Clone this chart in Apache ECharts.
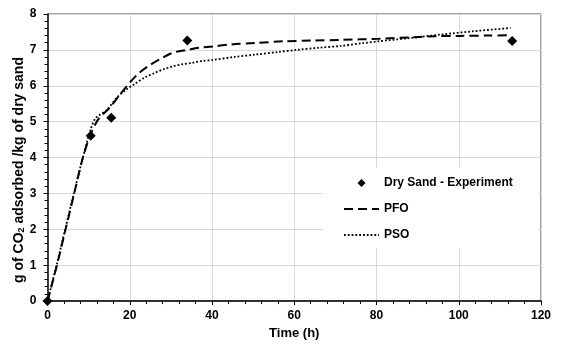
<!DOCTYPE html>
<html>
<head>
<meta charset="utf-8">
<script src="https://cdn.jsdelivr.net/npm/echarts@6/dist/echarts.min.js"></script>
<style>
  html, body { margin: 0; padding: 0; background: #fff; }
  #chart { width: 581px; height: 345px; }
</style>
</head>
<body>
<div id="chart"></div>
<script>
// Measured CO2 uptake of dry sand (g CO2 / kg sand) against time (h)
const expTime = [0, 10.5, 15.5, 34, 113];
const expUptake = [0, 4.61, 5.11, 7.26, 7.25];

// Pseudo-first-order (PFO) kinetic fit
const pfoTime = [0, 2.3, 4.4, 6.5, 8.5, 10.5, 12.5, 15.2, 17.5, 19.8, 22.1, 24.8, 27.5, 30.5, 34, 37, 40.6, 44.4, 50.6, 57.5, 64.4, 71.4, 80.5, 88.2, 94.3, 100.5, 107.4, 112.8];
const pfoUptake = [0, 1.0, 2.0, 3.0, 3.95, 4.65, 5.09, 5.4, 5.74, 6.06, 6.34, 6.57, 6.75, 6.92, 7.0, 7.06, 7.1, 7.15, 7.19, 7.24, 7.26, 7.28, 7.31, 7.35, 7.38, 7.39, 7.4, 7.41];

// Pseudo-second-order (PSO) kinetic fit
const psoTime = [0, 2.2, 4.3, 6.4, 8.6, 10.5, 11.7, 14.4, 16.7, 19, 21.3, 23.6, 25.9, 28.2, 30.5, 32.8, 35.2, 37.5, 40.2, 45.2, 50.6, 56, 60.6, 66, 71.4, 76.8, 80.5, 88.2, 95.9, 103.6, 112.6];
const psoUptake = [0, 1.0, 2.0, 3.0, 4.0, 4.78, 5.1, 5.32, 5.65, 5.88, 6.06, 6.23, 6.35, 6.46, 6.54, 6.6, 6.64, 6.69, 6.72, 6.8, 6.87, 6.94, 7.0, 7.06, 7.11, 7.19, 7.24, 7.33, 7.43, 7.52, 7.61];

// Axis ticks
const xTicks = [0, 20, 40, 60, 80, 100, 120];
const yTicks = [0, 1, 2, 3, 4, 5, 6, 7, 8];

const pairs = (xs, ys) => xs.map((x, i) => [x, ys[i]]);

const FONT = '"Liberation Sans", Arial, sans-serif';
const boldText = { fontFamily: FONT, fontWeight: 'bold', fontSize: 12, color: '#000' };

// Small diamond centred in a wide legend slot (zero-area end points fix the icon box width)
const legendDiamond = 'path://M-17.5,4L-17.49,4Z M0,0L4,4L0,8L-4,4Z M17.5,4L17.49,4Z';

const chart = echarts.init(document.getElementById('chart'), null, { renderer: 'canvas' });

chart.setOption({
  backgroundColor: '#fff',
  animation: false,
  grid: {
    left: 47.5, right: 40, top: 14, bottom: 39,
    show: true, borderColor: '#404040', borderWidth: 1
  },
  graphic: [{
    type: 'text',
    x: 19, y: 170,
    rotation: Math.PI / 2,
    style: {
      text: 'g of CO{sub|2} adsorbed /kg of dry sand',
      font: 'bold 14px "Liberation Sans", Arial, sans-serif',
      fill: '#000',
      align: 'center', verticalAlign: 'middle',
      rich: {
        sub: { font: 'bold 9px "Liberation Sans", Arial, sans-serif', fill: '#000', verticalAlign: 'bottom', padding: [6, 0, 0, 0] }
      }
    }
  }],
  legend: {
    orient: 'vertical',
    left: 323, top: 168,
    padding: [9, 25, 7, 20],
    backgroundColor: '#fff',
    itemWidth: 35, itemHeight: 8, itemGap: 14,
    textStyle: boldText,
    data: [
      { name: 'Dry Sand - Experiment', icon: legendDiamond },
      { name: 'PFO', itemStyle: { opacity: 0 } },
      { name: 'PSO', itemStyle: { opacity: 0 } }
    ]
  },
  xAxis: {
    type: 'value',
    min: xTicks[0], max: xTicks[xTicks.length - 1], interval: xTicks[1] - xTicks[0],
    name: 'Time (h)', nameLocation: 'middle', nameGap: 25,
    nameTextStyle: Object.assign({}, boldText, { fontSize: 13 }),
    axisLine: { lineStyle: { color: '#000', width: 1.5 } },
    axisTick: { show: true, inside: false, length: 4, lineStyle: { color: '#000' } },
    minorTick: { show: true, splitNumber: 5, length: 3, lineStyle: { color: '#000' } },
    axisLabel: Object.assign({ margin: 9 }, boldText),
    splitLine: { show: true, lineStyle: { color: '#d9d9d9', width: 1 } }
  },
  yAxis: {
    type: 'value',
    min: yTicks[0], max: yTicks[yTicks.length - 1], interval: yTicks[1] - yTicks[0],
    axisLine: { show: true, lineStyle: { color: '#000', width: 1.5 } },
    axisTick: { show: true, inside: false, length: 4, lineStyle: { color: '#000' } },
    minorTick: { show: true, splitNumber: 5, length: 3, lineStyle: { color: '#000' } },
    axisLabel: Object.assign({ margin: 11 }, boldText),
    splitLine: { show: true, lineStyle: { color: '#d9d9d9', width: 1 } }
  },
  series: [
    {
      name: 'PFO', type: 'line', smooth: 0.3, showSymbol: false, symbol: 'none',
      lineStyle: { color: '#000', width: 2, type: [9, 5] },
      itemStyle: { color: '#000' },
      data: pairs(pfoTime, pfoUptake), z: 2
    },
    {
      name: 'PSO', type: 'line', smooth: 0.3, showSymbol: false, symbol: 'none',
      lineStyle: { color: '#000', width: 1.8, type: [1.8, 2] },
      itemStyle: { color: '#000' },
      data: pairs(psoTime, psoUptake), z: 2
    },
    {
      name: 'Dry Sand - Experiment', type: 'scatter', symbol: 'diamond', symbolSize: 10,
      itemStyle: { color: '#000', opacity: 1 },
      data: pairs(expTime, expUptake), z: 3
    }
  ]
});
</script>
</body>
</html>
